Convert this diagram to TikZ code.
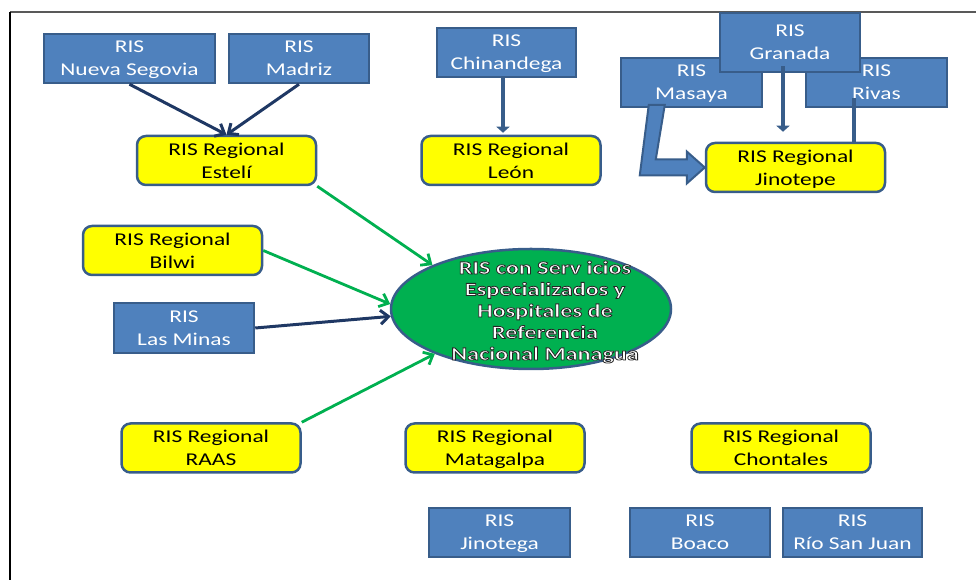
\documentclass[tikz,border=0pt]{standalone}
\usepackage{fontspec}
\setmainfont{Carlito}[FakeStretch=1.3]
\usetikzlibrary{arrows.meta,shapes.geometric}
\definecolor{risblue}{HTML}{4F81BD}
\definecolor{risedge}{HTML}{385D8A}
\definecolor{risnavy}{HTML}{1F3864}
\definecolor{risgreen}{HTML}{00B050}
\definecolor{risyellow}{HTML}{FFFF00}
% dark rim round the white hub text
\newcommand\rimtext[1]{\special{pdf:literal direct 2 Tr 0.8 w 0.15 0.15 0.15 RG}#1\special{pdf:literal direct 0 Tr}}

\begin{document}
\begin{tikzpicture}[x=1pt,y=1pt,font=\fontsize{18}{23}\selectfont,line cap=butt,
  risbox/.style={draw=risedge,line width=2.5pt,fill=risblue,text=white,align=center,minimum height=49pt,inner sep=0pt,text depth=0pt},
  regbox/.style={draw=risedge,line width=2.5pt,fill=risyellow,text=black,rounded corners=9pt,align=center,minimum width=179pt,minimum height=49pt,inner sep=0pt,text depth=0pt},
  hub/.style={ellipse,draw=risedge,line width=2.5pt,fill=risgreen,minimum width=280pt,minimum height=120pt,inner sep=0pt},
  hubtext/.style={text=white,align=center,inner sep=0pt,font=\bfseries\fontsize{18.6}{21.5}\selectfont},
  navyarr/.style={risnavy,line width=3pt,-{Straight Barb[length=8pt,width=14pt]}},
  greenarr/.style={risgreen,line width=2.8pt,-{Straight Barb[length=8pt,width=14pt]}},
  bluearr/.style={risedge,line width=4.5pt,-{Triangle[length=6pt,width=13pt]}}]
\useasboundingbox (0,0) rectangle (976,580);
% frame
\draw[gray!70!black,line width=1.2pt] (10,568) -- (976,568);
\draw[black,line width=2.5pt] (10,568) -- (10,0);

% top row
\node[risbox,minimum width=171pt] (nseg) at (129.5,521.5) {RIS\\Nueva Segovia};
\node[risbox,minimum width=140pt] (madriz) at (299,521.5) {RIS\\Madriz};
\node[risbox,minimum width=139pt] (chin) at (506.5,527.5) {RIS\\Chinandega};
\node[risbox,minimum width=141pt] (masaya) at (691.5,497.5) {RIS\\Masaya};
\node[risbox,minimum width=141pt] (rivas) at (876.5,497.5) {RIS\\Rivas};
\node[risbox,minimum width=140pt,minimum height=59pt] (granada) at (790,537.5) {RIS\\Granada};

% regional
\node[regbox] (esteli) at (226.5,419.5) {RIS Regional\\Estelí};
\node[regbox] (leon) at (511,419.5) {RIS Regional\\León};
\node[regbox] (jinotepe) at (795.5,412.5) {RIS Regional\\Jinotepe};
\node[regbox] (bilwi) at (172.5,329.5) {RIS Regional\\Bilwi};
\node[risbox,minimum width=140pt,minimum height=50pt] (minas) at (184,252) {RIS\\Las Minas};
\node[hub] (hub) at (531,271) {};
\node[hubtext] (hublabel) at ([xshift=14pt,yshift=-3pt]hub.center) {\rimtext{RIS con Serv icios\\Especializados y\\Hospitales de\\Referencia\\Nacional Managua}};
\node[regbox] (raas) at (211,132) {RIS Regional\\RAAS};
\node[regbox] (matagalpa) at (495,132) {RIS Regional\\Matagalpa};
\node[regbox] (chontales) at (781,132) {RIS Regional\\Chontales};

% bottom row
\node[risbox,minimum width=141pt] (jinotega) at (499.5,47.5) {RIS\\Jinotega};
\node[risbox,minimum width=140pt] (boaco) at (700,47.5) {RIS\\Boaco};
\node[risbox,minimum width=139pt] (sanjuan) at (852.5,47.5) {RIS\\Río San Juan};

% connectors
\draw[navyarr] (nseg.south) -- (esteli.north);
\draw[navyarr] (madriz.south) -- (esteli.north);
\draw[bluearr,shorten >=2pt] ([xshift=-3.5pt]chin.south) -- ([xshift=-8pt]leon.north);
\coordinate (grtip) at ([xshift=-12.5pt,yshift=10pt]jinotepe.north);
\draw[bluearr] ([xshift=-7pt,yshift=7pt]granada.south) -- (grtip);
\draw[risedge,line width=4.5pt] ([xshift=-22.5pt,yshift=10pt]rivas.south) -- ([xshift=58.5pt]jinotepe.north);
\draw[risedge,line width=2pt,fill=risblue] (jinotepe.west) -- ++(-18,16) -- ++(0,-8) -- ++(-31,0) -- ++(9,54.5)
  -- ++(-16,0) -- ++(-9,-70.5) -- ++(47,0) -- ++(0,-8) -- cycle;
\draw[greenarr] (esteli.south east) -- (hub.156);
\draw[greenarr] (bilwi.east) -- (hub.178);
\draw[navyarr] (minas.east) -- (hub.183);
\draw[greenarr] (raas.north east) -- (hub.205);
\end{tikzpicture}
\end{document}
